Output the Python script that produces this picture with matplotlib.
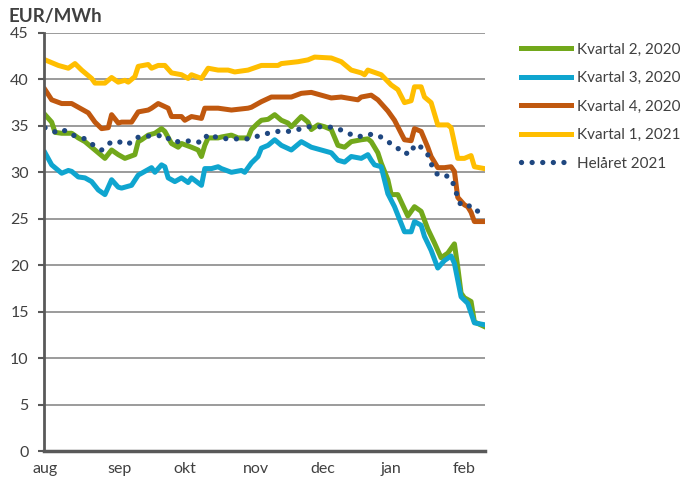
import matplotlib.pyplot as plt

plt.rcParams['font.family'] = ['Lato', 'DejaVu Sans']

# trading-day index (0 = start of August) and price in EUR/MWh
q2_20_x = [0, 2, 3, 5, 8, 10, 12, 14, 16, 18, 20, 22, 24, 27, 28, 29, 31, 33, 35, 36, 38, 40, 41, 44, 46, 47,
           48, 49, 52, 53, 56, 58, 61, 62, 64, 65, 67, 69, 71, 73, 74, 77, 79, 80, 82, 84, 86, 88, 90, 92, 95,
           97, 98, 99, 100, 101, 103, 104, 106, 109, 111, 113, 115, 117, 119, 121, 123, 124, 125, 126, 128, 129, 132]
q2_20_y = [36.2, 35.4, 34.3, 34.2, 34.2, 33.7, 33.3, 32.7, 32.1, 31.5, 32.4, 31.9, 31.5, 31.9, 33.3, 33.5, 34.0,
           34.2, 34.7, 34.4, 33.1, 32.7, 33.1, 32.7, 32.4, 31.7, 32.9, 33.7, 33.7, 33.8, 34.0, 33.7, 33.7, 34.6,
           35.3, 35.6, 35.7, 36.2, 35.6, 35.3, 34.9, 36.0, 35.4, 34.6, 35.1, 34.9, 34.6, 32.9, 32.7, 33.3, 33.5,
           33.6, 33.3, 32.7, 32.1, 31.0, 29.2, 27.6, 27.6, 25.3, 26.3, 25.8, 23.9, 22.4, 20.8, 21.3, 22.3, 19.8,
           17.0, 16.5, 16.1, 13.9, 13.4]

q3_20_x = [0, 2, 5, 7, 8, 10, 12, 14, 16, 18, 20, 22, 23, 26, 28, 29, 32, 33, 35, 36, 37, 39, 41, 43, 44, 47,
           48, 50, 52, 53, 56, 59, 60, 62, 64, 65, 67, 69, 71, 74, 77, 80, 83, 86, 88, 90, 92, 95, 97, 98, 99,
           101, 103, 105, 108, 110, 111, 113, 114, 116, 118, 120, 122, 123, 125, 127, 129, 132]
q3_20_y = [32.1, 30.8, 29.9, 30.2, 30.1, 29.5, 29.4, 29.0, 28.1, 27.6, 29.2, 28.4, 28.3, 28.6, 29.7, 29.9, 30.5,
           30.0, 30.8, 30.6, 29.4, 29.0, 29.4, 28.9, 29.4, 28.6, 30.4, 30.4, 30.6, 30.4, 30.0, 30.2, 30.0, 31.0,
           31.7, 32.6, 32.9, 33.5, 32.9, 32.4, 33.3, 32.7, 32.4, 32.1, 31.3, 31.1, 31.7, 31.5, 31.9, 31.3, 30.8,
           30.6, 27.7, 26.3, 23.6, 23.6, 24.7, 24.3, 23.1, 21.6, 19.7, 20.5, 21.0, 20.2, 16.6, 15.9, 13.8, 13.6]

q4_20_x = [0, 2, 5, 8, 10, 13, 15, 17, 19, 20, 22, 23, 26, 28, 31, 32, 34, 37, 38, 41, 42, 44, 47, 48, 52, 56,
           61, 62, 65, 68, 71, 74, 77, 80, 83, 86, 89, 94, 95, 98, 100, 103, 105, 108, 110, 111, 113, 115, 116,
           118, 120, 122, 123, 124, 126, 127, 128, 129, 132]
q4_20_y = [38.9, 37.8, 37.4, 37.4, 37.0, 36.4, 35.4, 34.7, 34.8, 36.2, 35.3, 35.4, 35.4, 36.5, 36.7, 36.9, 37.4,
           36.9, 36.0, 36.0, 35.6, 36.0, 35.8, 36.9, 36.9, 36.7, 36.9, 37.0, 37.6, 38.1, 38.1, 38.1, 38.5, 38.6,
           38.3, 38.0, 38.1, 37.8, 38.1, 38.3, 37.8, 36.6, 35.6, 33.5, 33.4, 34.7, 34.4, 32.7, 31.7, 30.5, 30.5,
           30.6, 30.1, 27.3, 26.5, 26.3, 25.7, 24.7, 24.7]

q1_21_x = [0, 4, 7, 9, 11, 14, 15, 18, 20, 22, 24, 25, 27, 28, 31, 32, 34, 36, 38, 41, 43, 44, 47, 49, 52, 55,
           57, 61, 65, 70, 71, 76, 79, 81, 86, 89, 92, 95, 96, 97, 101, 104, 106, 108, 110, 111, 113, 114, 116,
           118, 121, 122, 124, 126, 128, 129, 132]
q1_21_y = [42.1, 41.5, 41.2, 41.7, 41.0, 40.1, 39.6, 39.6, 40.2, 39.7, 39.9, 39.7, 40.3, 41.4, 41.6, 41.2, 41.5,
           41.5, 40.7, 40.5, 40.1, 40.5, 40.1, 41.2, 41.0, 41.0, 40.8, 41.0, 41.5, 41.5, 41.7, 41.9, 42.1, 42.4,
           42.3, 41.9, 41.0, 40.7, 40.5, 41.0, 40.5, 39.4, 38.9, 37.5, 37.7, 39.2, 39.2, 38.1, 37.5, 35.1, 35.1,
           34.8, 31.5, 31.5, 31.8, 30.6, 30.4]

year21_x = [0, 4, 6, 9, 12, 15, 17, 20, 22, 25, 27, 30, 33, 36, 38, 41, 44, 47, 49, 52, 55, 57, 61, 64, 67, 70,
            73, 76, 79, 82, 85, 88, 91, 94, 97, 100, 103, 106, 107, 110, 111, 113, 115, 116, 118, 120, 122, 123,
            124, 125, 127, 129, 130]
year21_y = [34.8, 34.2, 34.5, 33.9, 33.6, 32.8, 32.4, 33.3, 33.3, 33.0, 33.7, 33.9, 33.9, 34.0, 33.3, 33.3, 33.4,
            33.2, 34.1, 33.7, 33.6, 33.6, 33.6, 33.9, 34.2, 34.4, 34.4, 34.6, 34.9, 34.9, 34.9, 34.7, 34.2, 33.8,
            34.1, 34.0, 33.3, 32.6, 32.1, 32.0, 33.0, 32.7, 31.9, 30.9, 29.7, 29.7, 29.4, 28.4, 27.3, 26.4, 26.4,
            26.3, 25.8]

month_labels = ['aug', 'sep', 'okt', 'nov', 'dec', 'jan', 'feb']
month_pos = [0, 22.5, 42, 63.5, 83.5, 104, 126]

fig = plt.figure(figsize=(6.88, 4.84), dpi=100)
ax = fig.add_axes([0.064, 0.068, 0.641, 0.864])

lw = 3.6
ax.plot(q2_20_x, q2_20_y, color='#72A81B', lw=lw, label='Kvartal 2, 2020', solid_joinstyle='round')
ax.plot(q3_20_x, q3_20_y, color='#0FA5CF', lw=lw, label='Kvartal 3, 2020', solid_joinstyle='round')
ax.plot(q4_20_x, q4_20_y, color='#C0580F', lw=lw, label='Kvartal 4, 2020', solid_joinstyle='round')
ax.plot(q1_21_x, q1_21_y, color='#FFBE00', lw=lw, label='Kvartal 1, 2021', solid_joinstyle='round')
ax.plot(year21_x, year21_y, color='#1F4780', lw=3.8, linestyle=(0, (0.01, 2.0)), dash_capstyle='round',
        label='Helåret 2021')

ax.set_ylim(0, 45)
ax.set_xlim(-0.3, 132.2)
ax.set_yticks(range(0, 46, 5))
ax.set_xticks(month_pos)
ax.set_xticklabels(month_labels)
ax.yaxis.grid(True, color='#808080', lw=1.1)
ax.set_axisbelow(True)

for s in ['top', 'right']:
    ax.spines[s].set_visible(False)
ax.spines['left'].set_color('#595959')
ax.spines['left'].set_linewidth(2)
ax.spines['bottom'].set_color('#595959')
ax.spines['bottom'].set_linewidth(2.5)
ax.tick_params(axis='y', length=4, width=1.5, color='#595959', labelsize=11.5, labelcolor='#404040', pad=7)
ax.tick_params(axis='x', length=0, labelsize=11.5, labelcolor='#404040', pad=8)

fig.text(0.012, 0.965, 'EUR/MWh', fontsize=13.5, fontweight='bold', color='#404040', va='center')

ax.legend(loc='upper left', bbox_to_anchor=(0.757, 0.912), bbox_transform=fig.transFigure,
          frameon=False, fontsize=11, handlelength=3.3, handletextpad=0.35, labelspacing=0.95,
          borderaxespad=0, borderpad=0, labelcolor='#404040')

plt.savefig('out.png', dpi=100)
